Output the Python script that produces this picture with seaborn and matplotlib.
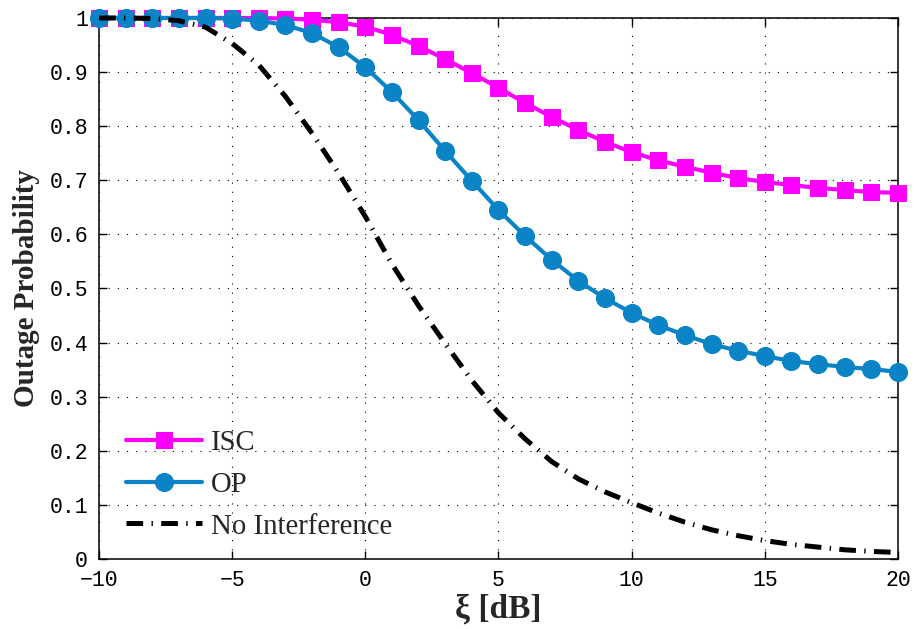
import matplotlib
matplotlib.use("Agg")
import matplotlib.pyplot as plt
import seaborn as sns
import pandas as pd

# Outage probability versus threshold xi (dB)
xi_db = list(range(-10, 21))

isc = [1.000, 1.000, 1.000, 1.000, 1.000, 1.000, 1.000, 0.999, 0.997, 0.992,
       0.984, 0.969, 0.948, 0.924, 0.898, 0.871, 0.843, 0.817, 0.793, 0.771,
       0.752, 0.737, 0.725, 0.714, 0.704, 0.697, 0.691, 0.686, 0.682, 0.678,
       0.677]

op = [1.000, 1.000, 1.000, 1.000, 1.000, 0.999, 0.995, 0.987, 0.972, 0.946,
      0.909, 0.863, 0.811, 0.754, 0.699, 0.645, 0.597, 0.553, 0.514, 0.482,
      0.455, 0.432, 0.414, 0.397, 0.385, 0.375, 0.366, 0.360, 0.355, 0.351,
      0.346]

no_interference = [1.000, 1.000, 0.999, 0.995, 0.983, 0.953, 0.913, 0.855,
                   0.787, 0.713, 0.633, 0.545, 0.468, 0.398, 0.330, 0.270,
                   0.222, 0.180, 0.148, 0.124, 0.104, 0.085, 0.068, 0.054,
                   0.043, 0.034, 0.027, 0.022, 0.017, 0.014, 0.012]

x_ticks = [-10, -5, 0, 5, 10, 15, 20]
x_tick_labels = ["\u221210", "\u22125", "0", "5", "10", "15", "20"]
y_ticks = [0, 0.1, 0.2, 0.3, 0.4, 0.5, 0.6, 0.7, 0.8, 0.9, 1.0]
y_tick_labels = ["0", "0.1", "0.2", "0.3", "0.4", "0.5", "0.6", "0.7",
                 "0.8", "0.9", "1"]

series_names = ["ISC", "OP", "No Interference"]

sns.set_theme(style="white")
plt.rcParams["lines.scale_dashes"] = False
plt.rcParams["font.family"] = ["Liberation Serif", "DejaVu Serif"]

df = pd.DataFrame({"xi": xi_db, "ISC": isc, "OP": op,
                   "No Interference": no_interference})

fig = plt.figure(figsize=(9.14, 6.29), dpi=100)
ax = fig.add_axes([0.1083, 0.1113, 0.8742, 0.8601])

magenta = "#FF00FF"
blue = "#0A84C7"

sns.lineplot(data=df, x="xi", y="ISC", ax=ax, color=magenta, linewidth=3.0,
             marker="s", markersize=12, markeredgecolor=magenta,
             markerfacecolor=magenta, clip_on=False, label=series_names[0],
             zorder=3)
sns.lineplot(data=df, x="xi", y="OP", ax=ax, color=blue, linewidth=3.0,
             marker="o", markersize=13, markeredgecolor=blue,
             markerfacecolor=blue, clip_on=False, label=series_names[1],
             zorder=4)
sns.lineplot(data=df, x="xi", y="No Interference", ax=ax, color="black",
             linewidth=3.6, linestyle=(0, (12, 6.0, 1.0, 6.0)),
             dash_capstyle="butt", clip_on=False, label=series_names[2],
             zorder=5)

ax.set_xlim(-10, 20)
ax.set_ylim(0, 1)
ax.set_xticks(x_ticks)
ax.set_xticklabels(x_tick_labels, family=["Liberation Mono", "DejaVu Sans Mono"],
                   fontsize=15.5)
ax.set_yticks(y_ticks)
ax.set_yticklabels(y_tick_labels, family=["Liberation Mono", "DejaVu Sans Mono"],
                   fontsize=15.5)

ax.tick_params(axis="both", which="both", direction="in", length=6, width=1,
               color="black", top=True, right=True, bottom=True, left=True,
               pad=8, labelcolor="black")

for side in ["top", "bottom", "left", "right"]:
    ax.spines[side].set_visible(True)
    ax.spines[side].set_color("black")
    ax.spines[side].set_linewidth(1.1)

ax.grid(True, color="black", linewidth=0.8, linestyle=(0, (0.8, 5.8)))
ax.set_axisbelow(True)

ax.set_xlabel("\u03be [dB]", fontsize=24, fontweight="bold", labelpad=2)
ax.set_ylabel("Outage Probability", fontsize=21, fontweight="bold",
              labelpad=7)

leg = ax.legend(loc="lower left", bbox_to_anchor=(0.034, 0.036), frameon=False,
                fontsize=20.7, handlelength=2.65, handletextpad=0.3,
                labelspacing=0.55, borderpad=0, borderaxespad=0, numpoints=1)

fig.savefig("out.png", dpi=100, facecolor="white")
